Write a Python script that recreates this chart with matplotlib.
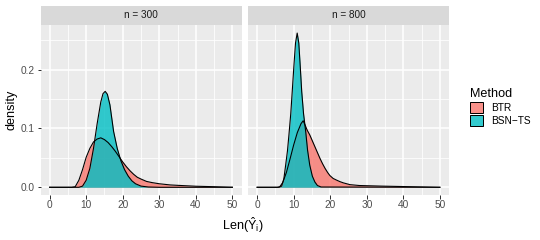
import matplotlib
matplotlib.use("Agg")
import matplotlib.pyplot as plt
from matplotlib.colors import to_rgb
from matplotlib.patches import Patch
from matplotlib.ticker import MultipleLocator

# fuentes parecidas a las de ggplot
plt.rcParams['font.family'] = ['Liberation Sans', 'DejaVu Sans']
plt.rcParams['mathtext.fontset'] = 'custom'
plt.rcParams['mathtext.rm'] = 'Liberation Sans'
plt.rcParams['mathtext.it'] = 'Liberation Sans:italic'

# datos: densidades estimadas por panel y metodo
panels = ["n = 300", "n = 800"]
methods = ["BTR", "BSN\u2212TS"]
colors = ["#F8766D", "#00BFC4"]

# n = 300
btr_300_x = [0, 6, 7, 8, 9, 10, 11, 12, 13, 14, 15, 16, 17, 18, 19, 20, 21, 22, 23, 24,
             25, 26.5, 28, 30, 33, 36, 40, 45, 50]
btr_300_y = [0, 0, 0.001, 0.012, 0.030, 0.051, 0.066, 0.077, 0.082, 0.084, 0.081, 0.076,
             0.069, 0.061, 0.052, 0.043, 0.035, 0.028, 0.022, 0.017, 0.014, 0.010, 0.008,
             0.006, 0.004, 0.003, 0.0018, 0.001, 0]
bsn_300_x = [0, 8, 9, 10, 11, 12, 13, 14, 14.6, 15.2, 15.8, 16.5, 17.5, 18.5, 19.5, 20.5,
             21.5, 22.5, 23.5, 25, 27, 30, 50]
bsn_300_y = [0, 0, 0.002, 0.012, 0.032, 0.066, 0.108, 0.145, 0.159, 0.163, 0.158, 0.140,
             0.095, 0.066, 0.045, 0.030, 0.019, 0.011, 0.006, 0.002, 0.0005, 0, 0]

# n = 800
btr_800_x = [0, 5.5, 6.2, 7, 8, 9, 10, 11, 12, 12.6, 13.1, 13.7, 14.4, 15.1, 15.8, 16.5,
             17.2, 17.9, 18.6, 19.3, 19.9, 20.8, 21.8, 22.7, 23.6, 25.4, 28, 31, 34, 38,
             42, 50]
btr_800_y = [0, 0, 0.001, 0.008, 0.025, 0.048, 0.072, 0.093, 0.108, 0.113, 0.106, 0.097,
             0.089, 0.079, 0.069, 0.059, 0.049, 0.040, 0.032, 0.025, 0.020, 0.015, 0.012,
             0.0095, 0.0075, 0.0045, 0.003, 0.0025, 0.002, 0.0015, 0.001, 0]
bsn_800_x = [0, 6, 6.7, 7.3, 7.8, 8.3, 8.7, 9.2, 9.6, 10.1, 10.5, 10.96, 11.4, 11.8, 12.2,
             12.7, 13.3, 13.8, 14.4, 15.1, 15.8, 16.5, 17.5, 50]
bsn_800_y = [0, 0, 0.002, 0.014, 0.0375, 0.062, 0.089, 0.125, 0.1625, 0.21, 0.245, 0.262,
             0.245, 0.205, 0.1625, 0.125, 0.094, 0.063, 0.0375, 0.019, 0.009, 0.003,
             0.0005, 0]

curves = [
    [(btr_300_x, btr_300_y), (bsn_300_x, bsn_300_y)],
    [(btr_800_x, btr_800_y), (bsn_800_x, bsn_800_y)],
]

W, H = 540, 240
fig = plt.figure(figsize=(W / 72, H / 72), dpi=72)

panel_left = [40.5, 248]
panel_w = 201
top, bottom = 25, 195
strip_top = 5.7

for i, name in enumerate(panels):
    x0 = panel_left[i]
    ax = fig.add_axes([x0 / W, 1 - bottom / H, panel_w / W, (bottom - top) / H])
    ax.set_facecolor("#EBEBEB")
    for (xs, ys), c in zip(curves[i], colors):
        ax.fill_between(xs, ys, color=c, alpha=0.8, lw=0)
        ax.plot(xs, ys, color="black", lw=1.1)
    ax.set_xlim(-2.5, 52.5)
    ax.set_ylim(-0.0131, 0.2757)
    ax.xaxis.set_major_locator(MultipleLocator(10))
    ax.xaxis.set_minor_locator(MultipleLocator(5))
    ax.yaxis.set_major_locator(MultipleLocator(0.1))
    ax.yaxis.set_minor_locator(MultipleLocator(0.05))
    ax.grid(which="major", color="white", lw=1.5)
    ax.grid(which="minor", color="white", lw=0.8)
    ax.set_axisbelow(True)
    for s in ax.spines.values():
        s.set_visible(False)
    ax.tick_params(which="major", length=3.5, width=1.0, color="#333333",
                   labelsize=10.1, labelcolor="#4D4D4D", pad=2)
    ax.tick_params(which="minor", length=0)
    ax.yaxis.set_major_formatter(plt.FuncFormatter(lambda v, p: f"{v:.1f}"))
    if i == 0:
        ax.set_ylabel("density", fontsize=12.6, labelpad=3)
    else:
        ax.tick_params(axis="y", which="both", left=False, labelleft=False)

    # franja con el titulo del panel
    sax = fig.add_axes([x0 / W, 1 - top / H, panel_w / W, (top - strip_top) / H])
    sax.set_facecolor("#D9D9D9")
    sax.set_xticks([])
    sax.set_yticks([])
    for s in sax.spines.values():
        s.set_visible(False)
    sax.text(0.5, 0.5, name, ha="center", va="center", fontsize=10,
             color="#1A1A1A", transform=sax.transAxes)

fig.text(243 / W, 1 - 225 / H, r"$\mathrm{Len}(\hat{\mathrm{Y}}_{\mathrm{i}})$",
         ha="center", va="center", fontsize=12.6)

handles = [Patch(facecolor=(*to_rgb(c), 0.8), edgecolor="black", lw=1.0) for c in colors]
leg = fig.legend(handles, methods, title="Method", loc="upper left",
                 bbox_to_anchor=(466 / W, 1 - 84 / H), frameon=False, fontsize=10.1,
                 title_fontsize=12.6, handlelength=1.3, handleheight=1.3,
                 labelspacing=0.2, handletextpad=0.75, borderaxespad=0)
leg._legend_box.align = "left"

fig.savefig("out.png", dpi=72)
